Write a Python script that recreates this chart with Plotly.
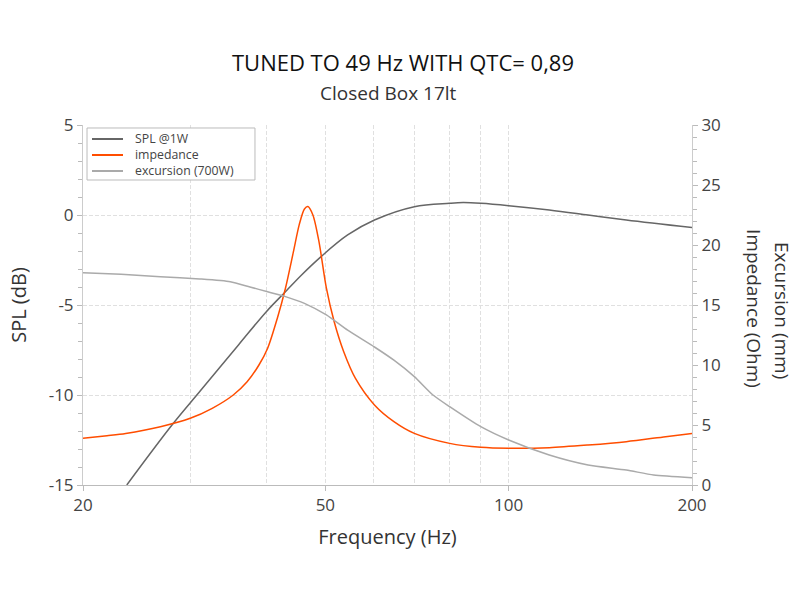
import plotly.graph_objects as go

# ---- data ----
spl_freq = [23.6, 28.0, 31.1, 36.0, 40.0, 43.0, 45.7, 49.2, 54.4, 60.2, 70.0, 80.0, 84.2, 90.0, 100.0, 116.6, 135.0, 156.0, 200.0]
spl_db = [-15.0, -11.67, -9.81, -7.22, -5.37, -4.26, -3.33, -2.31, -1.11, -0.28, 0.46, 0.65, 0.69, 0.65, 0.52, 0.28, 0.0, -0.28, -0.70]

imp_freq = [20.0, 21.9, 23.5, 26.8, 30.0, 32.6, 35.3, 37.2, 38.9, 40.2, 41.7, 43.0, 44.3, 45.3, 46.2, 46.8, 47.7, 48.8, 50.2, 51.7, 53.6, 56.0, 60.2, 64.8, 70.0, 80.0, 90.0, 100.0, 116.6, 135.0, 156.0, 181.0, 200.0]
imp_ohm = [3.89, 4.11, 4.3, 4.86, 5.56, 6.39, 7.5, 8.6, 10.0, 11.4, 13.9, 16.4, 19.4, 21.7, 23.0, 23.2, 22.5, 20.3, 16.4, 13.6, 11.1, 8.9, 6.67, 5.28, 4.3, 3.47, 3.14, 3.06, 3.11, 3.33, 3.61, 4.03, 4.3]

exc_freq = [20.0, 23.1, 26.8, 31.1, 34.9, 37.6, 40.2, 43.0, 46.2, 50.2, 54.4, 60.2, 64.8, 70.0, 75.1, 80.0, 90.0, 100.0, 116.6, 135.0, 156.0, 173.0, 200.0]
exc_mm = [17.69, 17.56, 17.36, 17.17, 16.94, 16.5, 16.1, 15.7, 15.14, 14.17, 12.9, 11.5, 10.4, 9.03, 7.5, 6.53, 4.86, 3.75, 2.5, 1.67, 1.25, 0.83, 0.61]

series_names = ["SPL @1W", "impedance", "excursion (700W)"]
series_colors = ["#666666", "#ff4d00", "#aaaaaa"]

x_tickvals = [20, 50, 100, 200]
x_ticktext = ["20", "50", "100", "200"]
x_minor_vals = [30, 40, 60, 70, 80, 90]
y_tickvals = [-15, -10, -5, 0, 5]
y_ticktext = ["-15", "-10", "-5", "0", "5"]
y2_tickvals = [0, 5, 10, 15, 20, 25, 30]

FONT = "Open Sans"
fig = go.Figure()
fig.add_trace(go.Scatter(x=spl_freq, y=spl_db, name=series_names[0], mode="lines",
                         line=dict(color=series_colors[0], width=1.5, shape="spline", smoothing=1.0)))
fig.add_trace(go.Scatter(x=imp_freq, y=imp_ohm, name=series_names[1], mode="lines", yaxis="y2",
                         line=dict(color=series_colors[1], width=1.5, shape="spline", smoothing=0.8)))
fig.add_trace(go.Scatter(x=exc_freq, y=exc_mm, name=series_names[2], mode="lines", yaxis="y2",
                         line=dict(color=series_colors[2], width=1.5, shape="spline", smoothing=0.6)))

grid = "#e0e0e0"
dash = "4px,2px"
fig.update_layout(
    width=800, height=600,
    margin=dict(l=83, r=108, t=125, b=115),
    paper_bgcolor="white", plot_bgcolor="white",
    font=dict(family=FONT, color="#444444", size=17),
    showlegend=False,
    xaxis=dict(type="log", range=[1.30103, 2.30103],
               tickvals=x_tickvals, ticktext=x_ticktext,
               showgrid=True, gridcolor=grid, griddash=dash, gridwidth=1,
               showline=True, linecolor="#bbbbbb", ticks="outside", ticklen=5, tickcolor="#bbbbbb",
               minor=dict(tickvals=x_minor_vals, showgrid=True, gridcolor=grid, griddash=dash, ticks=""),
               title=dict(text="Frequency (Hz)", font=dict(size=20, color="#333333"), standoff=14),
               zeroline=False),
    yaxis=dict(range=[-15, 5], tickvals=y_tickvals, ticktext=y_ticktext,
               showgrid=True, gridcolor=grid, griddash=dash,
               showline=True, linecolor="#cccccc", ticks="outside", ticklen=5, tickcolor="#bbbbbb",
               minor=dict(dtick=1, ticks="outside", ticklen=4, tickcolor="#bbbbbb", showgrid=False),
               title=dict(text="SPL (dB)", font=dict(size=20, color="#333333"), standoff=16),
               zeroline=False),
    yaxis2=dict(range=[0, 30], tickvals=y2_tickvals, overlaying="y", side="right",
                showgrid=False, showline=True, linecolor="#cccccc",
                ticks="outside", ticklen=5, tickcolor="#bbbbbb",
                minor=dict(dtick=1, ticks="outside", ticklen=4, tickcolor="#bbbbbb", showgrid=False),
                zeroline=False),
)

# custom legend (box, sample lines, labels)
fig.add_shape(type="rect", xref="paper", yref="paper", x0=0.0066, x1=0.2824, y0=0.8472, y1=0.9917,
              line=dict(color="#bbbbbb", width=1), fillcolor="white", layer="above")
leg_y = [0.9611, 0.9167, 0.8722]
for color, yy in zip(series_colors, leg_y):
    fig.add_shape(type="line", xref="paper", yref="paper", x0=0.0148, x1=0.0657, y0=yy, y1=yy,
                  line=dict(color=color, width=2), layer="above")
fig.add_annotation(text="<br>".join(series_names), xref="paper", yref="paper", x=0.0837, y=leg_y[1],
                   xanchor="left", yanchor="middle", align="left", showarrow=False, borderpad=0,
                   font=dict(size=12.3, color="#444444", family=FONT))

fig.add_annotation(text="TUNED TO 49 Hz WITH QTC= 0,89", xref="paper", yref="paper",
                   x=0.526, y=1.0 + (125 - 62) / 360, xanchor="center", yanchor="middle",
                   showarrow=False, font=dict(size=22, color="#111111", family=FONT))
fig.add_annotation(text="Closed Box 17lt", xref="paper", yref="paper",
                   x=0.501, y=1.0 + (125 - 93) / 360, xanchor="center", yanchor="middle",
                   showarrow=False, font=dict(size=19, color="#333333", family=FONT))
fig.add_annotation(text="Excursion (mm)", xref="paper", yref="paper",
                   x=1.0 + (782 - 692) / 609, y=0.5 + (485 - 310 - 180) / 360, xanchor="center", yanchor="middle",
                   textangle=90, showarrow=False, font=dict(size=19, color="#333333", family=FONT))
fig.add_annotation(text="Impedance (Ohm)", xref="paper", yref="paper",
                   x=1.0 + (754 - 692) / 609, y=0.5 + (485 - 308 - 180) / 360, xanchor="center", yanchor="middle",
                   textangle=90, showarrow=False, font=dict(size=19, color="#333333", family=FONT))

fig.write_html("out.html")
